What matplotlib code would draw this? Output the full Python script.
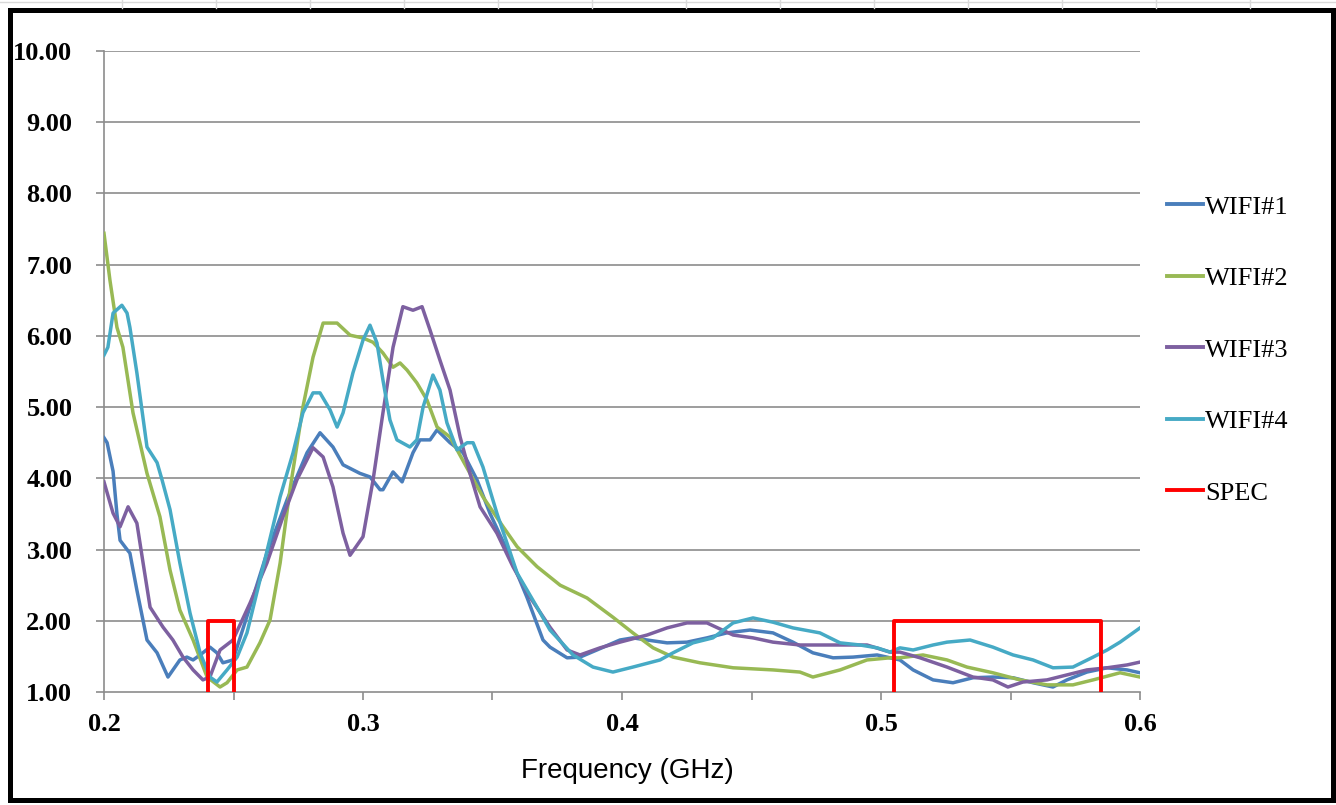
import numpy as np
import matplotlib
matplotlib.use("Agg")
import matplotlib.pyplot as plt
from matplotlib.lines import Line2D
from matplotlib.patches import Rectangle

# frequency (GHz) / value
f1 = [0.2000, 0.2012, 0.2035, 0.2050, 0.2062, 0.2089, 0.2100, 0.2127, 0.2166, 0.2205,
      0.2247, 0.2293, 0.2320, 0.2344, 0.2371, 0.2409, 0.2436, 0.2459, 0.2498, 0.2564,
      0.2629, 0.2707, 0.2784, 0.2834, 0.2884, 0.2923, 0.2988, 0.3027, 0.3066, 0.3077,
      0.3116, 0.3151, 0.3193, 0.3220, 0.3259, 0.3286, 0.3336, 0.3386, 0.3440, 0.3490,
      0.3568, 0.3633, 0.3695, 0.3722, 0.3788, 0.3838, 0.3903, 0.3992, 0.4042, 0.4097,
      0.4174, 0.4251, 0.4328, 0.4405, 0.4494, 0.4583, 0.4660, 0.4737, 0.4815, 0.4892,
      0.4985, 0.5035, 0.5073, 0.5124, 0.5201, 0.5278, 0.5355, 0.5432, 0.5510, 0.5587,
      0.5664, 0.5718, 0.5795, 0.5873, 0.5950, 0.6000]
v1 = [4.57, 4.50, 4.10, 3.50, 3.13, 3.00, 2.95, 2.43, 1.73, 1.55,
      1.21, 1.45, 1.49, 1.45, 1.52, 1.63, 1.55, 1.41, 1.45, 2.20,
      2.95, 3.70, 4.36, 4.64, 4.44, 4.19, 4.07, 4.02, 3.84, 3.84,
      4.09, 3.95, 4.36, 4.54, 4.54, 4.68, 4.50, 4.36, 3.98, 3.51,
      2.90, 2.33, 1.73, 1.63, 1.48, 1.49, 1.59, 1.73, 1.76, 1.73,
      1.69, 1.70, 1.76, 1.83, 1.87, 1.83, 1.70, 1.55, 1.48, 1.49,
      1.52, 1.48, 1.45, 1.31, 1.17, 1.13, 1.20, 1.21, 1.20, 1.13,
      1.07, 1.17, 1.28, 1.34, 1.31, 1.27]

f2 = [0.2000, 0.2023, 0.2050, 0.2073, 0.2112, 0.2166, 0.2216, 0.2255, 0.2293, 0.2344,
      0.2398, 0.2448, 0.2475, 0.2514, 0.2552, 0.2602, 0.2641, 0.2680, 0.2718, 0.2768,
      0.2807, 0.2846, 0.2900, 0.2950, 0.3000, 0.3039, 0.3077, 0.3116, 0.3143, 0.3170,
      0.3208, 0.3247, 0.3286, 0.3336, 0.3413, 0.3463, 0.3541, 0.3595, 0.3672, 0.3761,
      0.3865, 0.3965, 0.4042, 0.4120, 0.4197, 0.4301, 0.4429, 0.4583, 0.4687, 0.4737,
      0.4842, 0.4946, 0.5035, 0.5073, 0.5162, 0.5255, 0.5332, 0.5432, 0.5537, 0.5641,
      0.5741, 0.5819, 0.5923, 0.6000]
v2 = [7.44, 6.78, 6.12, 5.84, 4.92, 4.07, 3.46, 2.71, 2.15, 1.73,
      1.21, 1.07, 1.13, 1.31, 1.35, 1.69, 2.01, 2.81, 3.84, 5.00,
      5.70, 6.18, 6.18, 6.01, 5.97, 5.91, 5.76, 5.56, 5.62, 5.52,
      5.34, 5.10, 4.72, 4.58, 4.07, 3.74, 3.32, 3.04, 2.76, 2.50,
      2.32, 2.05, 1.83, 1.62, 1.49, 1.41, 1.34, 1.31, 1.28, 1.21,
      1.31, 1.45, 1.48, 1.48, 1.52, 1.45, 1.35, 1.27, 1.17, 1.10,
      1.10, 1.17, 1.27, 1.21]

f3 = [0.2000, 0.2035, 0.2062, 0.2093, 0.2127, 0.2151, 0.2178, 0.2228, 0.2266, 0.2305,
      0.2344, 0.2382, 0.2409, 0.2448, 0.2498, 0.2564, 0.2629, 0.2691, 0.2745, 0.2807,
      0.2846, 0.2884, 0.2923, 0.2950, 0.3000, 0.3039, 0.3077, 0.3116, 0.3154, 0.3193,
      0.3228, 0.3259, 0.3297, 0.3336, 0.3375, 0.3413, 0.3452, 0.3517, 0.3579, 0.3645,
      0.3722, 0.3788, 0.3838, 0.3915, 0.3992, 0.4097, 0.4174, 0.4251, 0.4328, 0.4429,
      0.4506, 0.4583, 0.4687, 0.4815, 0.4946, 0.5035, 0.5073, 0.5151, 0.5255, 0.5355,
      0.5432, 0.5490, 0.5548, 0.5641, 0.5718, 0.5795, 0.5873, 0.5950, 0.6000]
v3 = [3.95, 3.51, 3.32, 3.60, 3.37, 2.81, 2.19, 1.91, 1.73, 1.49,
      1.31, 1.17, 1.21, 1.59, 1.73, 2.25, 2.81, 3.46, 3.98, 4.43,
      4.30, 3.88, 3.23, 2.92, 3.18, 3.98, 4.92, 5.84, 6.41, 6.36,
      6.41, 6.08, 5.66, 5.24, 4.58, 4.07, 3.60, 3.23, 2.76, 2.33,
      1.91, 1.59, 1.52, 1.62, 1.70, 1.80, 1.90, 1.97, 1.97, 1.80,
      1.76, 1.70, 1.66, 1.66, 1.66, 1.56, 1.56, 1.48, 1.35, 1.21,
      1.17, 1.07, 1.14, 1.17, 1.24, 1.31, 1.34, 1.38, 1.42]

f4 = [0.2000, 0.2015, 0.2035, 0.2069, 0.2089, 0.2100, 0.2127, 0.2166, 0.2205, 0.2224,
      0.2255, 0.2293, 0.2332, 0.2371, 0.2409, 0.2436, 0.2475, 0.2514, 0.2552, 0.2602,
      0.2680, 0.2730, 0.2768, 0.2807, 0.2834, 0.2873, 0.2900, 0.2923, 0.2961, 0.3000,
      0.3027, 0.3054, 0.3077, 0.3104, 0.3131, 0.3181, 0.3208, 0.3232, 0.3270, 0.3297,
      0.3324, 0.3363, 0.3402, 0.3425, 0.3463, 0.3517, 0.3595, 0.3672, 0.3722, 0.3811,
      0.3888, 0.3965, 0.4042, 0.4147, 0.4197, 0.4274, 0.4351, 0.4429, 0.4506, 0.4583,
      0.4660, 0.4764, 0.4842, 0.4919, 0.4985, 0.5035, 0.5073, 0.5124, 0.5201, 0.5255,
      0.5344, 0.5432, 0.5510, 0.5587, 0.5664, 0.5741, 0.5819, 0.5873, 0.5923, 0.6000]
v4 = [5.73, 5.84, 6.32, 6.43, 6.32, 6.12, 5.48, 4.44, 4.22, 3.98,
      3.56, 2.81, 2.11, 1.55, 1.21, 1.14, 1.31, 1.49, 1.83, 2.57,
      3.74, 4.36, 4.92, 5.20, 5.20, 4.96, 4.72, 4.92, 5.48, 5.94,
      6.15, 5.90, 5.38, 4.82, 4.54, 4.44, 4.54, 5.00, 5.45, 5.24,
      4.78, 4.40, 4.50, 4.50, 4.16, 3.51, 2.67, 2.19, 1.87, 1.52,
      1.35, 1.28, 1.35, 1.45, 1.55, 1.69, 1.76, 1.97, 2.04, 1.98,
      1.90, 1.83, 1.69, 1.66, 1.62, 1.56, 1.62, 1.59, 1.66, 1.70,
      1.73, 1.63, 1.52, 1.45, 1.34, 1.35, 1.49, 1.59, 1.70, 1.90]

spec_f = [0.24, 0.24, 0.25, 0.25, np.nan, 0.505, 0.505, 0.585, 0.585]
spec_v = [1.0, 2.0, 2.0, 1.0, np.nan, 1.0, 2.0, 2.0, 1.0]

labels = ["WIFI#1", "WIFI#2", "WIFI#3", "WIFI#4", "SPEC"]
colors = ["#4A7EBB", "#98B954", "#7D60A0", "#46AAC5", "#FF0000"]

W, H = 1336, 805
fig = plt.figure(figsize=(W / 100, H / 100), dpi=100)
ax = fig.add_axes([104 / W, 1 - 692 / H, (1140 - 104) / W, (692 - 51) / H])

grid_c = "#8C8C8C"
for y in range(2, 11):
    ax.axhline(y, color=grid_c, lw=1.2, zorder=1)

series = [(f1, v1), (f2, v2), (f3, v3), (f4, v4)]
for (f, v), lab, c in zip(series, labels[:4], colors[:4]):
    ax.plot(f, v, color=c, lw=2.5, label=lab, zorder=3, solid_joinstyle="round")
ax.plot(spec_f, spec_v, color=colors[4], lw=2.8, label=labels[4], zorder=4)

ax.set_xlim(0.2, 0.6)
ax.set_ylim(1.0, 10.0)

xt = np.round(np.arange(0.2, 0.6001, 0.05), 2)
ax.set_xticks(xt)
ax.set_xticklabels(["%.1f" % t if i % 2 == 0 else "" for i, t in enumerate(xt)])
ax.set_yticks(np.arange(1, 11))
ax.set_yticklabels(["%.2f" % t for t in range(1, 11)])

for s in ["top", "right"]:
    ax.spines[s].set_visible(False)
for s in ["left", "bottom"]:
    ax.spines[s].set_color(grid_c)
    ax.spines[s].set_linewidth(1.2)

ax.tick_params(axis="y", direction="out", length=5.8, width=1.2, color=grid_c, pad=17)
ax.tick_params(axis="x", direction="out", length=5.8, width=1.2, color=grid_c, pad=9)
for t in ax.get_yticklabels() + ax.get_xticklabels():
    t.set_fontfamily("Liberation Serif")
    t.set_fontweight("bold")
    t.set_fontsize(19)

fig.text(627.5 / W, 1 - 771 / H, "Frequency (GHz)", ha="center", va="center",
         fontsize=20, family="Liberation Sans")

handles = [Line2D([], [], color=c, lw=2.8) for c in colors]
fig.legend(handles, labels, loc="center left", bbox_to_anchor=(1167 / W, 1 - 350 / H),
           bbox_transform=fig.transFigure, frameon=False, borderpad=0, borderaxespad=0,
           handlelength=1.35, handletextpad=0.1, labelspacing=1.82,
           prop={"family": "Liberation Serif", "size": 19})

# spreadsheet cell lines peeking above the chart frame
for x in range(122, W, 94):
    fig.add_artist(Line2D([x / W, x / W], [1 - 8 / H, 1.0], color="#D9D9D9", lw=1))
fig.add_artist(Line2D([0, 1], [1 - 2 / H, 1 - 2 / H], color="#D9D9D9", lw=1))

# black chart frame
fig.add_artist(Rectangle((9.5 / W, 1 - 799.5 / H), (1332.5 - 9.5) / W, (799.5 - 10) / H,
                         transform=fig.transFigure, fill=False, ec="black", lw=3.6))

fig.savefig("out.png", dpi=100)
